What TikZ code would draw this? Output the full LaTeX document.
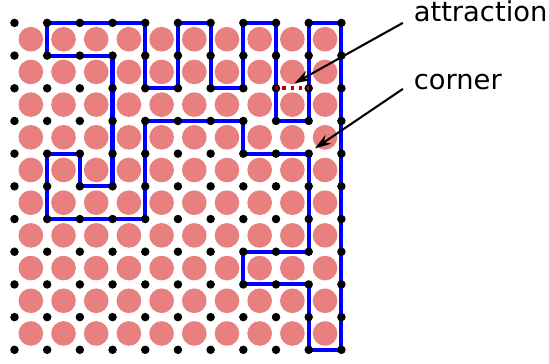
\documentclass[tikz,border=0pt]{standalone}
\usepackage{fontspec}
\setmainfont{DejaVu Sans}
\usetikzlibrary{arrows.meta}
\definecolor{bead}{RGB}{233,128,128}
\definecolor{bond}{RGB}{185,0,0}

\begin{document}
\begin{tikzpicture}[x=0.5cm, y=0.5cm, line join=round,
	monomer/.style={fill=bead},
	chain/.style={draw=blue, line width=1.8pt},
	site/.style={fill=black},
	contact/.style={draw=bond, line width=1.6pt, dash pattern=on 1.6pt off 1.95pt, dash phase=0.8pt},
	pointer/.style={-{Stealth[length=7pt,width=4.5pt]}, line width=0.9pt},
	tag/.style={anchor=base west, inner sep=0pt, font=\fontsize{11.9}{14}\selectfont}]
	% Khung hình
	\useasboundingbox (-0.443,-0.43) rectangle (16.35,10.70);
	% Các điểm lưới (cột i, hàng j tính từ trên xuống)
	\foreach \i in {0,...,10}
	\foreach \j in {0,...,10}
	\coordinate (p\i-\j) at (\i,10-\j);
	% Các hạt tròn màu hồng
	\foreach \i in {0,...,9}
	\foreach \j in {0,...,9}
	\fill[monomer] (\i+0.5,9.5-\j) circle (0.377);
	% Chuỗi polymer khép kín
	\draw[chain] (p1-0) -- (p4-0) -- (p4-2) -- (p5-2) -- (p5-0) -- (p6-0) -- (p6-2)
	-- (p7-2) -- (p7-0) -- (p8-0) -- (p8-3) -- (p9-3) -- (p9-0) -- (p10-0)
	-- (p10-10) -- (p9-10) -- (p9-8) -- (p7-8) -- (p7-7) -- (p9-7) -- (p9-4)
	-- (p7-4) -- (p7-3) -- (p4-3) -- (p4-6) -- (p1-6) -- (p1-4) -- (p2-4)
	-- (p2-5) -- (p3-5) -- (p3-1) -- (p1-1) -- cycle;
	% Các nút lưới màu đen
	\foreach \i in {0,...,10}
	\foreach \j in {0,...,10}
	\fill[site] (p\i-\j) circle (0.13);
	% Tương tác hút (nét chấm đỏ)
	\draw[contact] (p8-2) -- (p9-2);
	% Nhãn và mũi tên chỉ
	\node[tag] (attr) at (12.2,10.03) {attraction};
	\node[tag] (corn) at (12.2,7.95) {corner};
	\coordinate (attr-tail) at (11.88,10.0);
	\coordinate (corn-tail) at (11.88,7.98);
	\coordinate (attr-tip) at (8.56,8.15);
	\coordinate (corn-tip) at (9.19,6.16);
	\draw[pointer] (attr-tail) -- (attr-tip);
	\draw[pointer] (corn-tail) -- (corn-tip);
\end{tikzpicture}
\end{document}
